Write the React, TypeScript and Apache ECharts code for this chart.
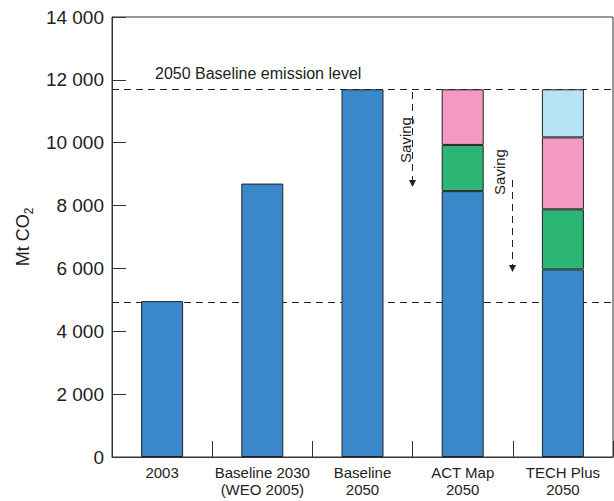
import React, { useEffect, useRef } from "react";
import * as echarts from "echarts";

const categories = ["2003", "Baseline 2030\n(WEO 2005)", "Baseline\n2050", "ACT Map\n2050", "TECH Plus\n2050"];
const blueValues = [4960, 8700, 11700, 8460, 5970];
const greenValues = [null, null, null, 1470, 1910];
const pinkValues = [null, null, null, 1770, 2290];
const lightBlueValues = [null, null, null, null, 1530];
const baselineLevel = 11700;
const lowerLevel = 4930;
const yTicks = { min: 0, max: 14000, interval: 2000 };

const FONT = "'Liberation Sans', Arial, Helvetica, sans-serif";
const fmt = (v: number) => String(v).replace(/\B(?=(\d{3})+(?!\d))/g, " ");

export default function App() {
  const ref = useRef<HTMLDivElement>(null);
  useEffect(() => {
    if (!ref.current) return;
    const chart = echarts.init(ref.current, null, { renderer: "svg" });
    const barCommon = {
      type: "bar" as const,
      stack: "total",
      barWidth: 42,
      itemStyle: { borderColor: "#222", borderWidth: 1 },
    };
    chart.setOption({
      animation: false,
      textStyle: { fontFamily: FONT },
      grid: { left: 112, top: 17, width: 501, bottom: 44, show: true, borderColor: "#333", borderWidth: 1 },
      xAxis: {
        type: "category",
        data: categories,
        axisLine: { lineStyle: { color: "#333", width: 1 } },
        axisTick: { show: true, interval: 0, inside: true, length: 16, lineStyle: { color: "#333" } },
        axisLabel: { interval: 0, color: "#222", fontSize: 15, lineHeight: 17, margin: 7, fontFamily: FONT },
      },
      yAxis: {
        type: "value",
        min: yTicks.min,
        max: yTicks.max,
        interval: yTicks.interval,
        splitLine: { show: false },
        axisLine: { show: true, lineStyle: { color: "#333", width: 1 } },
        axisTick: { show: true, inside: true, length: 14, lineStyle: { color: "#333" } },
        axisLabel: { color: "#222", fontSize: 19, margin: 8, formatter: (v: number) => fmt(v), fontFamily: FONT },
        name: "{a|Mt CO}{b|2}",
        nameLocation: "middle",
        nameRotate: 90,
        nameGap: 69,
        nameTextStyle: {
          fontSize: 18,
          color: "#222",
          rich: {
            a: { fontSize: 18, color: "#222", fontFamily: FONT, verticalAlign: "bottom" },
            b: { fontSize: 12, color: "#222", fontFamily: FONT, verticalAlign: "bottom", padding: [0, 0, -3, 0] },
          },
        },
      },
      series: [
        {
          ...barCommon,
          name: "base",
          data: blueValues,
          itemStyle: { ...barCommon.itemStyle, color: "#3a88c9" },
          markLine: {
            silent: true,
            z: 1,
            symbol: ["none", "none"],
            label: { show: false },
            lineStyle: { type: [7, 5], color: "#222", width: 1 },
            data: [{ yAxis: baselineLevel }, { yAxis: lowerLevel }],
          },
        },
        { ...barCommon, name: "green", data: greenValues, itemStyle: { ...barCommon.itemStyle, color: "#2cb673" } },
        { ...barCommon, name: "pink", data: pinkValues, itemStyle: { ...barCommon.itemStyle, color: "#f39ac2" } },
        { ...barCommon, name: "lightblue", data: lightBlueValues, itemStyle: { ...barCommon.itemStyle, color: "#b8e3f7" } },
      ],
      graphic: [
        {
          type: "text",
          left: 155,
          top: 65,
          style: { text: "2050 Baseline emission level", fontSize: 16, fill: "#222", fontFamily: FONT },
        },
        {
          type: "text",
          x: 405,
          y: 140,
          rotation: Math.PI / 2,
          style: { text: "Saving", fontSize: 15, fill: "#222", fontFamily: FONT, align: "center", verticalAlign: "middle" },
        },
        {
          type: "line",
          shape: { x1: 412.5, y1: 92, x2: 412.5, y2: 181 },
          style: { stroke: "#222", lineWidth: 1, lineDash: [7, 5] },
        },
        {
          type: "polygon",
          shape: { points: [[409, 180], [416, 180], [412.5, 187]] },
          style: { fill: "#222" },
        },
        {
          type: "text",
          x: 499,
          y: 172,
          rotation: Math.PI / 2,
          style: { text: "Saving", fontSize: 15, fill: "#222", fontFamily: FONT, align: "center", verticalAlign: "middle" },
        },
        {
          type: "line",
          shape: { x1: 512.5, y1: 180, x2: 512.5, y2: 265 },
          style: { stroke: "#222", lineWidth: 1, lineDash: [7, 5] },
        },
        {
          type: "polygon",
          shape: { points: [[509, 265], [516, 265], [512.5, 272]] },
          style: { fill: "#222" },
        },
      ],
    });
    return () => chart.dispose();
  }, []);
  return <div ref={ref} style={{ position: "absolute", left: 0, top: 0, width: 614, height: 501 }} />;
}
